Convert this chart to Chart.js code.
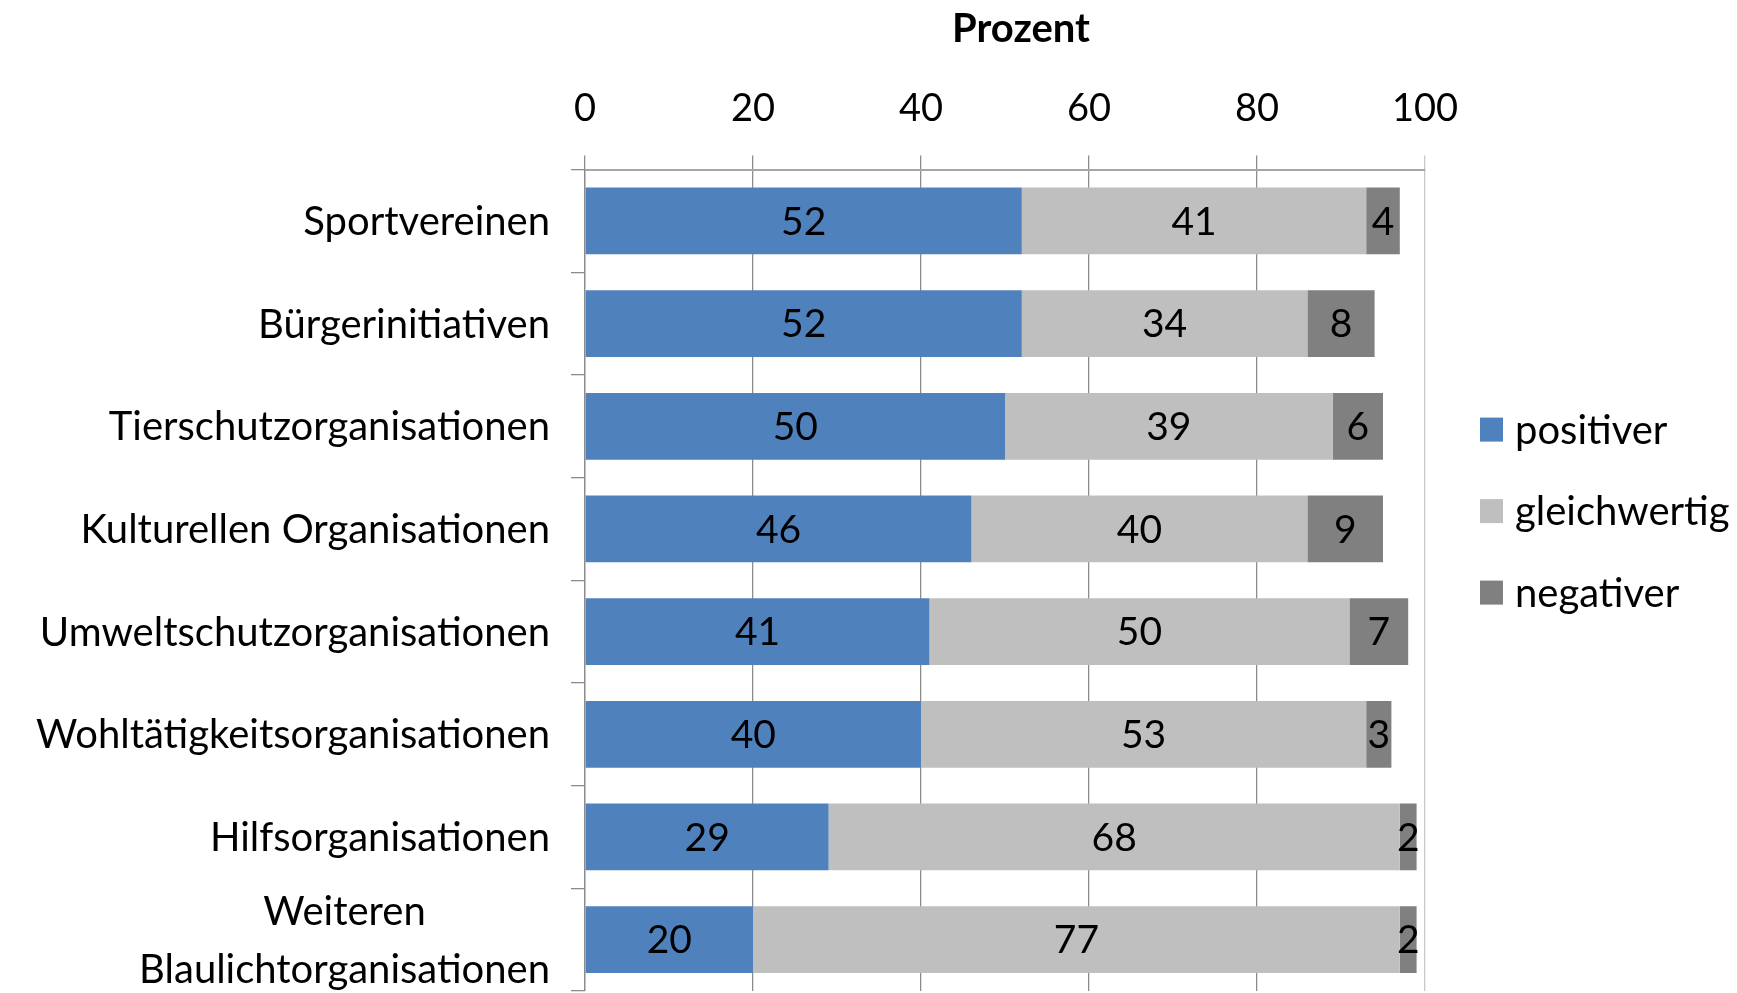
<!DOCTYPE html>
<html>
<head>
<meta charset="utf-8">
<style>
  html, body { margin: 0; padding: 0; background: #fff; }
  #chart { display: block; }
</style>
<script src="https://cdn.jsdelivr.net/npm/chart.js"></script>
</head>
<body>
<canvas id="chart" width="1737" height="993"></canvas>
<script>
    // Werte (Prozent)
    var categories = [
        'Sportvereinen',
        'Bürgerinitiativen',
        'Tierschutzorganisationen',
        'Kulturellen Organisationen',
        'Umweltschutzorganisationen',
        'Wohltätigkeitsorganisationen',
        'Hilfsorganisationen',
        ['Weiteren', 'Blaulichtorganisationen']
    ];
    var positiver    = [52, 52, 50, 46, 41, 40, 29, 20];
    var gleichwertig = [41, 34, 39, 40, 50, 53, 68, 77];
    var negativer    = [4, 8, 6, 9, 7, 3, 2, 2];
    var seriesNames  = ['positiver', 'gleichwertig', 'negativer'];
    var xTicks       = [0, 20, 40, 60, 80, 100];
    var axisTitle    = 'Prozent';

    var colors = ['#4F81BD', '#BFBFBF', '#808080'];
    var FONT = 'Lato';

    Chart.defaults.font.family = FONT;
    Chart.defaults.color = '#000';

    // Zahlen mittig in die Balkensegmente schreiben
    var valueLabels = {
        id: 'valueLabels',
        afterDatasetsDraw: function (chart) {
            var ctx = chart.ctx;
            ctx.save();
            ctx.font = '39px ' + FONT;
            ctx.fillStyle = '#000';
            ctx.textAlign = 'center';
            ctx.textBaseline = 'middle';
            chart.data.datasets.forEach(function (ds, i) {
                var meta = chart.getDatasetMeta(i);
                meta.data.forEach(function (bar, j) {
                    var cx = (bar.x + bar.base) / 2;
                    ctx.fillText(ds.data[j], cx, bar.y + 1);
                });
            });
            ctx.restore();
        }
    };

    // Kategorienamen: rechtsbündig, mehrzeilige Namen zentriert
    var categoryLabels = {
        id: 'categoryLabels',
        afterDraw: function (chart) {
            var ctx = chart.ctx;
            var yScale = chart.scales.y;
            var right = chart.chartArea.left - 14 - 21;
            var lh = 58;
            ctx.save();
            ctx.font = '40px ' + FONT;
            ctx.fillStyle = '#000';
            ctx.textAlign = 'center';
            ctx.textBaseline = 'middle';
            chart.data.labels.forEach(function (lbl, i) {
                var lines = Array.isArray(lbl) ? lbl : [lbl];
                var w = Math.max.apply(null, lines.map(function (t) { return ctx.measureText(t).width; }));
                var cx = right - w / 2;
                var cy = yScale.getPixelForTick(i);
                var y0 = cy - (lines.length - 1) * lh / 2;
                lines.forEach(function (t, k) {
                    ctx.fillText(t, cx, y0 + k * lh + 1);
                });
            });
            ctx.restore();
        }
    };

    // Achsentitel oben, leicht rechts der Mitte wie im Original
    var topTitle = {
        id: 'topTitle',
        afterDraw: function (chart) {
            var ctx = chart.ctx;
            var area = chart.chartArea;
            ctx.save();
            ctx.font = 'bold 40px ' + FONT;
            ctx.fillStyle = '#000';
            ctx.textAlign = 'center';
            ctx.textBaseline = 'middle';
            ctx.fillText(axisTitle, (area.left + area.right) / 2 + 16, 29);
            ctx.restore();
        }
    };

    // Legende rechts neben dem Diagramm
    var sideLegend = {
        id: 'sideLegend',
        afterDraw: function (chart) {
            var ctx = chart.ctx;
            var area = chart.chartArea;
            var x = area.right + 55;
            ctx.save();
            ctx.font = '40px ' + FONT;
            ctx.textAlign = 'left';
            ctx.textBaseline = 'middle';
            chart.data.datasets.forEach(function (ds, i) {
                var cy = area.top + 260 + i * 81.5;
                ctx.fillStyle = ds.backgroundColor;
                ctx.fillRect(x, cy - 12, 23, 24);
                ctx.fillStyle = '#000';
                ctx.fillText(ds.label, x + 35, cy + 1);
            });
            ctx.restore();
        }
    };

    var ctx = document.getElementById('chart');
    var chart = new Chart(ctx, {
        type: 'bar',
        data: {
            labels: categories,
            datasets: [
                { label: seriesNames[0], data: positiver, backgroundColor: colors[0] },
                { label: seriesNames[1], data: gleichwertig, backgroundColor: colors[1] },
                { label: seriesNames[2], data: negativer, backgroundColor: colors[2] }
            ]
        },
        options: {
            indexAxis: 'y',
            responsive: false,
            animation: false,
            devicePixelRatio: 1,
            layout: {
                padding: { top: 62, right: 312, bottom: 2, left: 0 }
            },
            datasets: {
                bar: { categoryPercentage: 1, barPercentage: 0.65 }
            },
            scales: {
                x: {
                    position: 'top',
                    stacked: true,
                    min: 0,
                    max: 100,
                    afterBuildTicks: function (scale) {
                        scale.ticks = xTicks.map(function (v) { return { value: v }; });
                    },
                    ticks: {
                        font: { size: 38 },
                        padding: 24
                    },
                    grid: {
                        color: function (c) {
                            return c.tick && c.tick.value === 100 ? '#C8C8C8' : '#8C8C8C';
                        },
                        lineWidth: 1.3,
                        tickLength: 14
                    },
                    border: { color: '#A6A6A6', width: 2 }
                },
                y: {
                    stacked: true,
                    afterFit: function (scale) {
                        scale.width = 585;
                        scale.paddingTop = 0;
                        scale.paddingBottom = 0;
                    },
                    ticks: {
                        autoSkip: false,
                        display: false
                    },
                    grid: {
                        drawOnChartArea: false,
                        color: '#8C8C8C',
                        tickLength: 14,
                        lineWidth: 1.3
                    },
                    border: { color: '#8C8C8C', width: 1.3 }
                }
            },
            plugins: {
                legend: { display: false },
                tooltip: { enabled: false }
            }
        },
        plugins: [valueLabels, categoryLabels, topTitle, sideLegend]
    });
</script>
</body>
</html>
